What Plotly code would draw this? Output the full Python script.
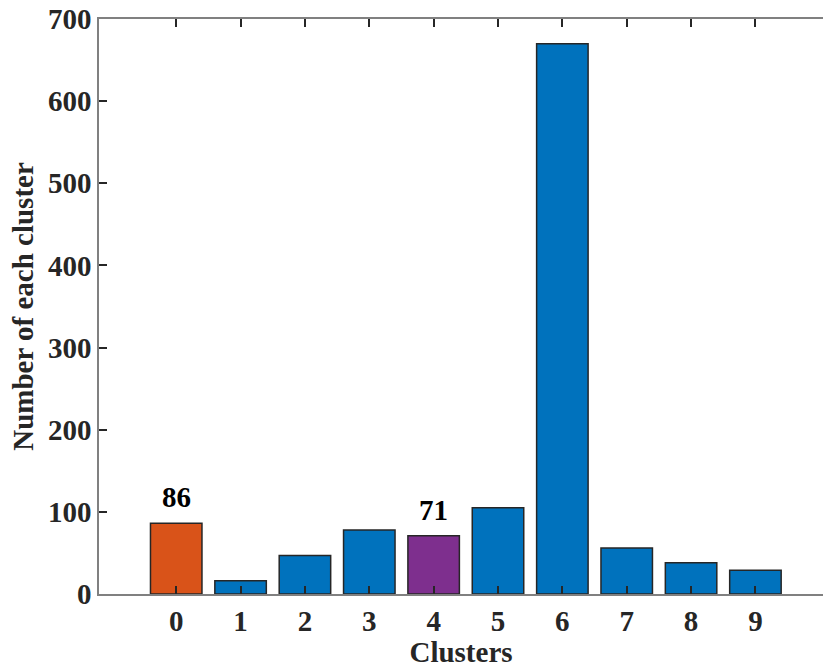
import plotly.graph_objects as go

clusters = [0, 1, 2, 3, 4, 5, 6, 7, 8, 9]
counts = [86, 16, 47, 78, 71, 105, 670, 56, 38, 29]
highlight = {0: "#D95319", 4: "#7E2F8E"}
base_color = "#0072BD"
labelled = [0, 4]
y_ticks = [0, 100, 200, 300, 400, 500, 600, 700]

colors = [highlight.get(c, base_color) for c in clusters]

font_family = "Liberation Serif, Times New Roman, serif"
fs = 29

fig = go.Figure()
fig.add_trace(go.Bar(
    x=clusters, y=counts, width=0.8,
    marker=dict(color=colors, line=dict(color="#262626", width=1.5)),
    showlegend=False,
))

for c in labelled:
    fig.add_annotation(
        x=c, y=counts[c], text=f"<b>{counts[c]}</b>", showarrow=False,
        yanchor="bottom", yshift=8,
        font=dict(family=font_family, size=fs, color="#000000"),
    )

axis_common = dict(
    showline=True, linecolor="#808080", linewidth=1.5,
    ticks="inside", ticklen=8, tickwidth=1.5, tickcolor="#262626",
    showgrid=False, zeroline=False,
    tickfont=dict(family=font_family, size=fs, color="#262626"),
)

fig.update_xaxes(
    **axis_common,
    mirror="ticks",
    range=[-1.2, 10.05],
    tickmode="array", tickvals=clusters, ticktext=[f"<b>{c}</b>" for c in clusters],
    title=dict(text="<b>Clusters</b>", font=dict(family=font_family, size=fs, color="#262626"), standoff=4),
)
fig.update_yaxes(
    **axis_common,
    mirror=False,
    range=[0, 700],
    tickmode="array", tickvals=y_ticks, ticktext=[f"<b>{v}</b>" for v in y_ticks],
    title=dict(text="<b>Number of each cluster</b>", font=dict(family=font_family, size=fs, color="#262626"), standoff=6),
)

fig.update_layout(
    width=823, height=668,
    margin=dict(l=99, r=0, t=19, b=74),
    plot_bgcolor="white", paper_bgcolor="white",
    bargap=0.2,
)

fig.write_html("out.html")
